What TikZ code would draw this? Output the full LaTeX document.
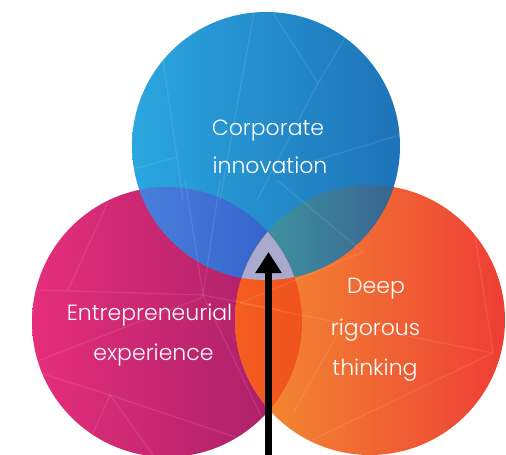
\documentclass[tikz,border=0pt]{standalone}
\usepackage{fontspec}
\setmainfont{Poppins Light}
\usetikzlibrary{arrows.meta}
\definecolor{blueL}{HTML}{2AA7E0}
\definecolor{blueR}{HTML}{1E72B8}
\definecolor{magL}{HTML}{E62E7B}
\definecolor{magR}{HTML}{A51F67}
\definecolor{orgL}{HTML}{F39030}
\definecolor{orgR}{HTML}{EE3E36}
\definecolor{tlL}{HTML}{4B80DC}
\definecolor{tlR}{HTML}{2F5DC8}
\definecolor{trL}{HTML}{3D9CA3}
\definecolor{trR}{HTML}{3A6290}
\definecolor{lrL}{HTML}{F55E1F}
\definecolor{lrR}{HTML}{F0521F}
\definecolor{triple}{HTML}{AAAACE}
\tikzset{
  lbl/.style={text=white, font=\fontsize{22}{22}\selectfont, anchor=base, inner sep=0pt},
  net/.style={white, opacity=0.1, line width=1.2pt},
  arrowline/.style={line width=7pt, -{Triangle[length=21pt,width=25pt]}}
}
\begin{document}
\begin{tikzpicture}[x=1pt,y=-1pt]
\useasboundingbox (0,0) rectangle (506,455);
\coordinate (T) at (266,146);
\coordinate (L) at (167,322);
\coordinate (R) at (370,320);
% base circles
\shade[left color=magL, right color=magR] (L) circle (135pt);
\shade[left color=orgL, right color=orgR] (R) circle (135pt);
\shade[left color=blueL, right color=blueR] (T) circle (134pt);
% overlaps
\begin{scope}
  \clip (T) circle (134pt); \clip (L) circle (135pt);
  \shade[left color=tlL, right color=tlR] (132,180) rectangle (302,282);
\end{scope}
\begin{scope}
  \clip (T) circle (134pt); \clip (R) circle (135pt);
  \shade[left color=trL, right color=trR] (235,180) rectangle (400,282);
\end{scope}
\begin{scope}
  \clip (L) circle (135pt); \clip (R) circle (135pt);
  \shade[left color=lrL, right color=lrR] (235,230) rectangle (302,415);
\end{scope}
\begin{scope}
  \clip (L) circle (135pt); \clip (R) circle (135pt); \clip (T) circle (134pt);
  \fill[triple] (230,225) rectangle (310,285);
\end{scope}
% faint network lines
\begin{scope}
  \clip (T) circle (134pt) (L) circle (135pt) (R) circle (135pt);
  \draw[net] (254,13) -- (220,200);
  \draw[net] (273,13) -- (318,83) -- (345,38);
  \draw[net] (318,83) -- (257,200);
  \draw[net] (163,60) -- (183,200);
  \draw[net] (130,170) -- (177,157);
  \draw[net] (273,173) -- (400,135);
  \draw[net] (108,202) -- (68,290);
  \draw[net] (40,290) -- (203,295) -- (280,310);
  \draw[net] (203,295) -- (185,180);
  \draw[net] (203,295) -- (220,180);
  \draw[net] (40,360) -- (203,297);
  \draw[net] (203,295) -- (263,420);
  \draw[net] (40,373) -- (110,395) -- (253,443);
  \draw[net] (110,395) -- (93,433);
  \draw[net] (110,395) -- (153,455);
  \draw[net] (240,303) -- (493,353);
  \draw[net] (240,303) -- (363,252) -- (277,180);
  \draw[net] (473,223) -- (493,353) -- (312,440);
  \draw[net] (293,413) -- (340,330);
\end{scope}
% labels
\node[lbl] (c1) at (268,135) {Corporate};
\node[lbl] (c2) at (270,173) {innovation};
\node[lbl] (e1) at (149.5,320) {Entrepreneurial};
\node[lbl] (e2) at (153.5,360) {experience};
\node[lbl] (d1) at (376,293) {Deep};
\node[lbl] (d2) at (375.5,335) {rigorous};
\node[lbl] (d3) at (375,375) {thinking};
% arrow
\coordinate (arrowstart) at (268.5,460);
\coordinate (arrowtip) at (268.5,252);
\draw[arrowline] (arrowstart) -- (arrowtip);
\end{tikzpicture}
\end{document}
